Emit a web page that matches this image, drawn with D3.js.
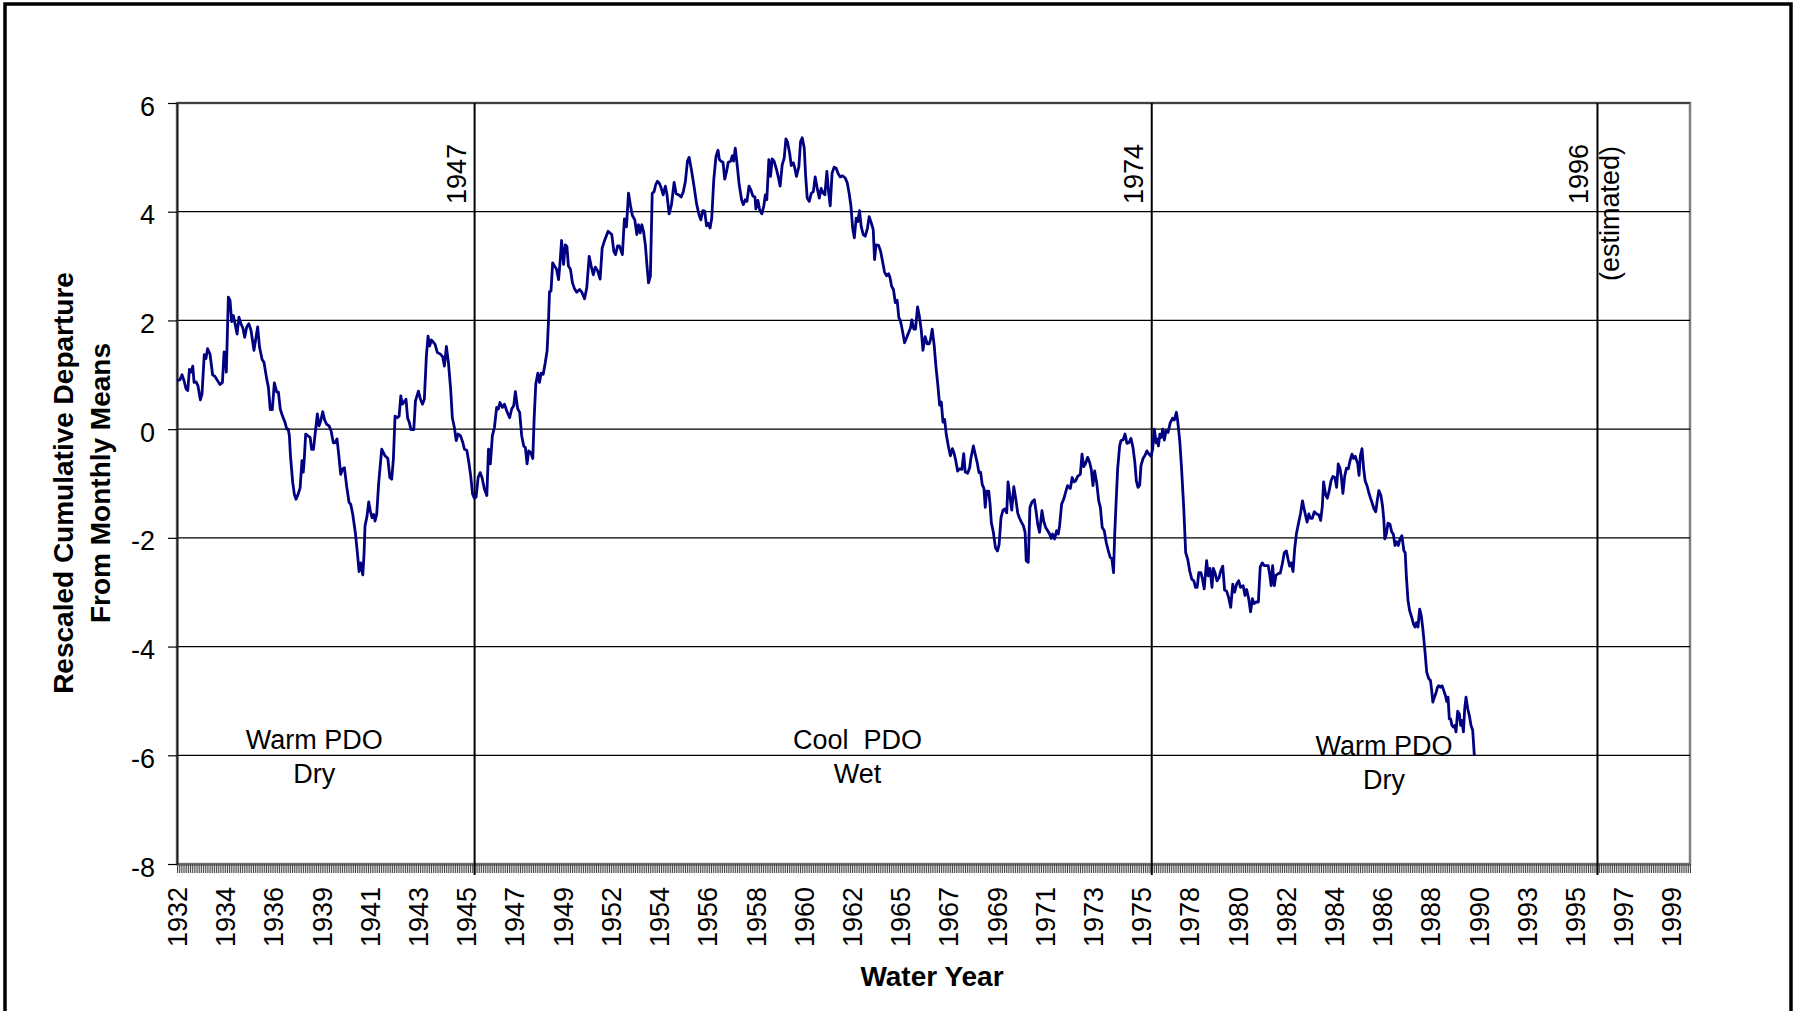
<!DOCTYPE html>
<html>
<head>
<meta charset="utf-8">
<script src="https://cdn.jsdelivr.net/npm/d3@7"></script>
<style>
  body { margin: 0; background: #fff; }
  svg { display: block; font-family: "Liberation Sans", Arial, sans-serif; }
</style>
</head>
<body>
<div id="chart"></div>
<script>
// monthly points [month since start of record, rescaled cumulative departure]
let warmEarly = [[0,0.89],[1.6,0.91],[2.7,1.0],[3.8,0.89],[4.9,0.74],[5.8,0.71],[6.7,1.10],[7.7,1.05],[8.5,1.16],[9.2,0.86],[10.3,0.87],[11.3,0.80],[12.6,0.54],[13.5,0.65],[14.7,1.37],[15.6,1.30],[16.5,1.48],[17.8,1.38],[19.2,1.0],[20.5,0.97],[21.9,0.89],[23.2,0.82],[24.5,0.86],[25.4,1.42],[26.1,1.37],[26.6,1.05],[27.7,2.43],[28.6,2.37],[29.5,1.98],[30.4,2.09],[31.3,1.94],[32.4,1.75],[33.4,2.06],[34.5,1.94],[35.6,1.85],[36.5,1.69],[37.6,1.88],[38.7,1.94],[39.9,1.82],[41.5,1.45],[43.5,1.88],[44.5,1.51],[45.9,1.28],[46.9,1.23],[48.4,0.92],[49.3,0.77],[50.3,0.36],[51.4,0.36],[52.5,0.85],[53.8,0.68],[54.7,0.68],[55.7,0.37],[56.8,0.25],[58.3,0.12],[59.2,0],[60,0.0],[60.6,-0.12],[61.2,-0.49],[62.4,-0.98],[63.3,-1.2],[64.2,-1.29],[65.3,-1.2],[66.4,-1.08],[67.4,-0.58],[68.1,-0.79],[68.6,-0.58],[69.4,-0.09],[70.5,-0.12],[71.8,-0.15],[72.6,-0.37],[73.6,-0.37],[74.6,-0.06],[75.7,0.28],[76.6,0.06],[77.5,0.15],[78.6,0.32],[79.6,0.17],[80.7,0.09],[82,0.06],[83.1,-0.03],[84.3,-0.25],[85.2,-0.25],[86.3,-0.18],[87.2,-0.46],[88.3,-0.83],[89.4,-0.73],[90.3,-0.71],[91.5,-1.05],[92.8,-1.35],[93.7,-1.38],[94.8,-1.57],[96.2,-1.91],[97.3,-2.28],[98.2,-2.62],[99.1,-2.46],[100.2,-2.68],[100.9,-2.28],[101.4,-1.78],[102.5,-1.6],[103.4,-1.34],[104.3,-1.51],[105.2,-1.63],[106.1,-1.57],[106.8,-1.69],[107.7,-1.57],[108.8,-0.98],[110.4,-0.37],[112.2,-0.49],[113.7,-0.54],[114.8,-0.89],[115.8,-0.92],[116.7,-0.55],[117.6,0.24],[118.8,0.21],[119.8,0.24],[120.7,0.61],[121.6,0.46],[122.5,0.5],[123.5,0.55],[124.4,0.2],[125.3,0.12],[126.2,-0.01],[127.7,-0.01],[128.6,0.52],[130.2,0.7],[131.3,0.55],[132.4,0.46],[133.4,0.55],[134.5,1.35],[135.4,1.71],[136.3,1.53],[137.2,1.64],[139.2,1.56],[140.4,1.41],[142.1,1.38],[143.3,1.33],[144.2,1.16],[145.3,1.52],[146.4,1.22],[147.6,0.73],[148.5,0.21],[149.6,0.03],[150.6,-0.21],[151.6,-0.09],[152.9,-0.12],[154.1,-0.24],[155,-0.37],[156.3,-0.39],[157.4,-0.61],[158.4,-0.86],[159.4,-1.19],[160.4,-1.27]];

let coolWet = [[161.3,-1.25],[162.4,-0.89],[163.5,-0.8],[164.5,-0.89],[165.8,-1.10],[167.1,-1.22],[168,-0.37],[169,-0.64],[170.1,-0.12],[171.2,0.03],[172.4,0.4],[173.3,0.37],[174.2,0.49],[175.5,0.40],[176.6,0.46],[178,0.32],[179.4,0.21],[180.5,0.37],[181.6,0.43],[182.5,0.69],[183.7,0.38],[184.8,0.31],[185.9,-0.12],[187,-0.31],[187.9,-0.34],[188.8,-0.64],[189.7,-0.4],[190.8,-0.43],[191.9,-0.54],[192.6,0.18],[193.5,0.83],[194.6,1.03],[195.5,0.86],[196.4,1.03],[197.5,1.01],[198.6,1.22],[199.6,1.44],[200.4,2.02],[200.9,2.53],[201.7,2.54],[202.6,3.06],[203.6,3.0],[204.7,2.94],[205.8,2.75],[206.7,3.12],[207.4,3.47],[208.5,3.03],[209.4,3.39],[210.3,3.36],[211.1,3.0],[212.2,2.94],[213.3,2.69],[214.4,2.58],[215.6,2.52],[217.1,2.57],[218.3,2.52],[219.8,2.4],[221,2.6],[222.3,3.18],[223.4,3.0],[224.5,2.84],[225.6,2.98],[226.8,2.92],[228.2,2.76],[229.3,3.33],[230.4,3.45],[232.5,3.64],[234.5,3.58],[235.6,3.27],[236.5,3.21],[237.6,3.37],[238.6,3.37],[240.2,3.21],[241.3,3.87],[242.4,3.72],[243.5,4.34],[244.6,4.11],[245.6,3.93],[246.9,3.85],[248,3.58],[248.9,3.76],[249.8,3.61],[250.7,3.76],[251.6,3.64],[252.6,3.39],[253.5,3.0],[254.3,2.69],[255.3,2.81],[256.3,4.34],[257.3,4.37],[258.2,4.5],[259.1,4.56],[260.2,4.52],[261.1,4.44],[262.2,4.31],[263.4,4.47],[264.2,4.33],[265.4,3.96],[266.7,4.13],[268.1,4.54],[269.2,4.33],[270.6,4.31],[271.9,4.27],[273.1,4.37],[274.2,4.56],[275.3,4.93],[276.2,5.0],[277.3,4.8],[278.7,4.5],[280.3,4.13],[281.6,3.94],[282.5,3.85],[283.6,4.02],[284.6,4.01],[285.6,3.74],[286.4,3.79],[287.5,3.70],[288.4,3.88],[289.5,4.59],[290.7,5.02],[291.8,5.13],[292.5,4.96],[293.4,4.93],[294.5,4.91],[295.4,4.6],[296.4,4.74],[297.3,4.91],[298.6,4.93],[299.5,5.03],[300.2,4.93],[301.1,5.17],[302,4.9],[303.2,4.5],[304.5,4.22],[305.4,4.13],[306.5,4.22],[307.4,4.19],[308.5,4.47],[309.5,4.4],[310.6,4.29],[311.7,4.27],[312.2,4.05],[313.3,4.21],[314.2,4.04],[315.4,3.96],[316.5,4.11],[317.3,4.31],[318.1,4.22],[319.2,4.96],[320.1,4.65],[321,4.97],[322,4.93],[323.4,4.77],[324.4,4.62],[325.3,4.47],[326.4,4.86],[327.5,4.99],[328.4,5.34],[329.3,5.28],[330.4,5.08],[331.3,4.85],[332.4,4.9],[333.2,4.8],[334.1,4.65],[335.4,4.83],[336.3,5.29],[337.2,5.36],[338.3,5.17],[339,4.68],[339.9,4.25],[341,4.19],[342.1,4.34],[343.2,4.37],[344.2,4.64],[345.3,4.43],[346.4,4.25],[347.4,4.43],[348.5,4.34],[349.4,4.31],[350.5,4.74],[351.4,4.37],[352.3,4.11],[353.3,4.71],[354.4,4.82],[355.5,4.8],[356.6,4.7],[357.7,4.64],[358.9,4.66],[360.4,4.62],[361.5,4.53],[362.5,4.34],[363.5,4.1],[364.4,3.7],[365.3,3.52],[366.3,3.88],[367.2,3.82],[368.1,4.02],[369,3.73],[370.1,3.58],[371.2,3.55],[372.4,3.7],[373.3,3.91],[374.4,3.8],[375.5,3.67],[376.2,3.12],[377,3.39],[378.4,3.38],[379.5,3.27],[380.5,3.09],[381.6,2.89],[382.7,2.82],[383.8,2.86],[384.6,2.78],[385.4,2.63],[386.4,2.57],[387.4,2.33],[388.4,2.37],[389.3,2.05],[390.2,1.99],[391.3,1.8],[392.4,1.59],[393.5,1.68],[394.5,1.77],[395.6,1.86],[396.3,2.01],[397.4,1.84],[398.3,1.84],[399.4,2.25],[400.4,2.07],[401.4,1.82],[402.3,1.45],[403.5,1.7],[404.6,1.57],[405.7,1.57],[406.4,1.65],[407.3,1.84],[408.4,1.53],[409.3,1.16],[410.4,0.79],[411.3,0.44],[412.2,0.5],[413.1,0.13],[414,0.18],[414.9,-0.1],[416,-0.31],[417.1,-0.49],[418.2,-0.36],[419,-0.43],[419.9,-0.56],[421,-0.77],[422.1,-0.73],[423.3,-0.74],[424.3,-0.45],[425.1,-0.79],[426.4,-0.81],[427.5,-0.71],[428.2,-0.53],[429.5,-0.31],[430.7,-0.49],[431.6,-0.62],[432.5,-0.8],[433.4,-0.79],[434.3,-1.02],[435.2,-1.09],[435.9,-1.44],[436.7,-1.14],[437.8,-1.14],[438.5,-1.38],[439.2,-1.72],[440.3,-1.9],[441.4,-2.18],[442.5,-2.24],[443.4,-2.12],[444.4,-1.63],[445.5,-1.49],[446.4,-1.47],[447.5,-1.54],[448.2,-0.97],[449.1,-1.2],[450.2,-1.49],[451.3,-1.06],[452.4,-1.29],[453.4,-1.54],[454.3,-1.63],[455.4,-1.71],[456.5,-1.78],[457.4,-1.9],[458,-2.42],[459.1,-2.45],[460,-1.44],[461.1,-1.34],[462.4,-1.3],[463.4,-1.53],[464.2,-1.75],[465.2,-1.9],[466.5,-1.5],[467.4,-1.69],[468.5,-1.81],[469.6,-1.87],[470.6,-1.93],[471.5,-2.01],[472.2,-1.93],[473.3,-2.02],[474.4,-1.87],[475.3,-1.93],[476,-1.78],[477.1,-1.38],[478.2,-1.29],[479.2,-1.17],[480.3,-1.04],[481.8,-1.09],[482.8,-0.89],[483.8,-0.97],[484.7,-0.95],[485.7,-0.87],[487.2,-0.83],[488.1,-0.46],[489,-0.69],[489.9,-0.64],[491.1,-0.52],[492.2,-0.61],[493.1,-0.74],[494,-1.04],[494.9,-0.77],[496,-0.98],[497.1,-1.32],[498,-1.44],[499,-1.81],[500.1,-1.87],[501.2,-2.09],[502.3,-2.24],[503.3,-2.36],[504.2,-2.38],[505.1,-2.64],[505.7,-1.96],[506.4,-1.41],[507.3,-0.74],[508.4,-0.31],[509.1,-0.21],[510.2,-0.2],[511.3,-0.09],[512.3,-0.26],[513.4,-0.25],[514.5,-0.17],[515.6,-0.34],[516.6,-0.61],[517.4,-0.95],[518.3,-1.07],[519.2,-1.03],[519.9,-0.67],[521,-0.54],[522.1,-0.48],[523.1,-0.4],[524.2,-0.46],[525.3,-0.5]];

let warmLate = [[526.2,-0.37],[527.1,0],[528.1,-0.25],[528.5,-0.18],[529.3,-0.31],[530.1,-0.09],[530.9,-0.15],[531.6,0],[532.5,-0.2],[533.4,-0.03],[534.5,-0.06],[535.7,0.12],[537,0.2],[537.9,0.17],[539,0.31],[539.7,0.15],[540.8,-0.21],[541.7,-0.67],[543,-1.47],[544,-2.27],[545.1,-2.39],[546.2,-2.61],[547.3,-2.76],[548.4,-2.79],[549.3,-2.91],[550.2,-2.91],[551.1,-2.64],[552.2,-2.64],[553.1,-2.76],[554,-2.94],[555.3,-2.42],[556.2,-2.7],[557.1,-2.56],[558.2,-2.91],[558.9,-2.56],[559.8,-2.64],[560.9,-2.79],[562,-2.73],[562.9,-2.61],[564,-2.52],[565,-2.96],[566.1,-2.98],[567.2,-3.1],[568.3,-3.28],[569.4,-2.85],[570.4,-3.0],[571.5,-2.85],[572.6,-2.79],[573.6,-2.91],[575,-2.88],[576,-3.06],[576.9,-2.95],[578,-3.12],[579,-3.36],[580,-3.12],[580.9,-3.21],[582.1,-3.18],[583.2,-3.18],[584.2,-2.54],[585.3,-2.46],[586.4,-2.51],[588.5,-2.51],[589.4,-2.69],[590.1,-2.88],[590.9,-2.51],[591.8,-2.88],[592.7,-2.69],[593.8,-2.66],[595,-2.65],[596.1,-2.48],[597.2,-2.27],[598.3,-2.24],[599.2,-2.39],[600.1,-2.52],[601,-2.46],[601.9,-2.62],[602.8,-2.2],[603.7,-1.93],[605,-1.71],[605.9,-1.56],[607,-1.32],[607.7,-1.44],[608.6,-1.58],[609.5,-1.71],[610.4,-1.56],[611.3,-1.64],[612.3,-1.64],[613.4,-1.52],[614.7,-1.56],[615.9,-1.58],[616.8,-1.68],[617.7,-1.42],[618.4,-0.97],[619.5,-1.21],[620.4,-1.27],[621.3,-1.15],[622.4,-0.95],[623.4,-0.87],[624.5,-0.89],[625.4,-1.07],[626.3,-0.64],[627.2,-0.72],[628,-0.89],[628.8,-1.18],[629.8,-0.86],[630.7,-0.72],[631.7,-0.73],[632.8,-0.56],[633.7,-0.46],[634.6,-0.54],[635.5,-0.5],[636.8,-0.64],[637.5,-0.85],[638.2,-0.49],[639.1,-0.36],[640,-0.73],[640.8,-0.95],[641.8,-1.04],[642.7,-1.16],[643.6,-1.26],[644.5,-1.35],[645.5,-1.46],[646.5,-1.52],[647.3,-1.32],[648.2,-1.13],[649.3,-1.22],[650.2,-1.42],[650.9,-1.68],[651.4,-2.02],[652.2,-1.93],[653.1,-1.73],[654.2,-1.75],[655.1,-1.89],[656,-1.93],[656.9,-2.14],[657.8,-2.07],[658.7,-2.14],[659.6,-2.02],[660.6,-1.96],[661.7,-2.24],[662.4,-2.27],[663,-2.69],[663.9,-3.15],[664.8,-3.34],[665.9,-3.46],[666.8,-3.58],[667.7,-3.64],[668.4,-3.56],[669.3,-3.64],[670.2,-3.31],[671.1,-3.44],[672,-3.7],[673.1,-4.1],[674,-4.47],[675.1,-4.59],[676,-4.62],[676.7,-4.81],[677.3,-5.02],[678.2,-4.93],[679.1,-4.84],[679.8,-4.75],[680.5,-4.72],[681.4,-4.75],[682.3,-4.72],[683.2,-4.81],[684.1,-4.9],[684.8,-5.01],[685.5,-4.93],[686.2,-5.33],[686.9,-5.33],[687.6,-5.45],[688.4,-5.48],[689.1,-5.45],[689.8,-5.57],[690.7,-5.19],[691.6,-5.24],[692.3,-5.45],[693,-5.36],[693.8,-5.57],[694.5,-5.14],[695.2,-4.93],[696.1,-5.14],[697,-5.27],[697.9,-5.45],[698.8,-5.54],[699.7,-6.01]];

let yearLabels = ['1932','1934','1936','1939','1941','1943','1945','1947','1949','1952','1954','1956','1958','1960','1962','1965','1967','1969','1971','1973','1975','1978','1980','1982','1984','1986','1988','1990','1993','1995','1997','1999'];
let labelEvery = 26;    // months between year labels
let totalMonths = 816;  // categories on the x axis
let yTicks = [-8, -6, -4, -2, 0, 2, 4, 6];

let shiftYears = ['1947', '1974', '1996'];
let shiftMonths = [160.5, 525.7, 766.1];
let shiftNotes = ['', '', '(estimated)'];

let regimeTop = ['Warm PDO', 'Cool  PDO', 'Warm PDO'];
let regimeBottom = ['Dry', 'Wet', 'Dry'];
let regimeMonths = [74, 367, 651];


let W = 1795, H = 1011;
let pLeft = 177, pRight = 1690, pTop = 103, pBottom = 864;
let font = 27;

let svg = d3.select('#chart')
  .append('svg')
    .attr('width', W)
    .attr('height', H)
;

svg.append('rect')
    .attr('width', W)
    .attr('height', H)
    .attr('fill', '#fff')
;

// outer frame (bottom edge runs off the picture)
svg.append('rect')
    .attr('x', 5)
    .attr('y', 4)
    .attr('width', 1786)
    .attr('height', 1200)
    .attr('fill', 'none')
    .attr('stroke', '#000')
    .attr('stroke-width', 3.5)
;

let x = d3.scaleLinear().domain([0, totalMonths]).range([pLeft, pRight]);
let y = d3.scaleLinear().domain([-8, 6]).range([pBottom, pTop]);

// plot area border
svg.append('rect')
    .attr('x', pLeft)
    .attr('y', pTop)
    .attr('width', pRight - pLeft)
    .attr('height', pBottom - pTop)
    .attr('fill', 'none')
    .attr('stroke', '#808080')
    .attr('stroke-width', 2.5)
;

// gridlines
svg.selectAll('.grid').data(yTicks)
  .enter()
    .append('line')
    .attr('class', 'grid')
    .attr('x1', pLeft)
    .attr('x2', pRight)
    .attr('y1', d => y(d))
    .attr('y2', d => y(d))
    .attr('stroke', '#000')
    .attr('stroke-width', 1.2)
;

// monthly tick band on the x axis
let minorAxis = d3.axisBottom(x)
  .tickValues(d3.range(0, totalMonths + 1))
  .tickSize(9)
  .tickSizeOuter(0)
  .tickFormat('');

let gMinor = svg.append('g')
    .attr('transform', 'translate(0,' + pBottom + ')')
    .call(minorAxis);
gMinor.select('.domain').attr('stroke', '#808080').attr('stroke-width', 2.5);
gMinor.selectAll('.tick line').attr('stroke', '#444').attr('stroke-width', 1);

// year labels
let labelAxis = d3.axisBottom(x)
  .tickValues(yearLabels.map((d, i) => i * labelEvery))
  .tickSize(0)
  .tickFormat((d, i) => yearLabels[i]);

let gLabels = svg.append('g')
    .attr('transform', 'translate(0,' + pBottom + ')')
    .call(labelAxis);
gLabels.select('.domain').remove();
gLabels.selectAll('text')
    .attr('transform', 'rotate(-90)')
    .attr('text-anchor', 'end')
    .attr('x', -23)
    .attr('y', 9.5)
    .attr('dy', 0)
    .attr('fill', '#000')
    .style('font-size', font + 'px')
    .style('font-family', '"Liberation Sans", Arial, sans-serif')
;

// y axis
let yAxis = d3.axisLeft(y)
  .tickValues(yTicks)
  .tickSize(9)
  .tickSizeOuter(0)
  .tickPadding(13)
  .tickFormat(d => String(d));

let gy = svg.append('g')
    .attr('transform', 'translate(' + pLeft + ',0)')
    .call(yAxis);
gy.select('.domain').attr('stroke', '#222').attr('stroke-width', 2);
gy.selectAll('.tick line').attr('stroke', '#000').attr('stroke-width', 1.2);
gy.selectAll('text')
    .attr('dy', 12)
    .attr('fill', '#000')
    .style('font-size', font + 'px')
    .style('font-family', '"Liberation Sans", Arial, sans-serif')
;

// regime shift lines
let shifts = svg.selectAll('.shift').data(shiftYears)
  .enter()
    .append('g')
    .attr('class', 'shift')
;

shifts.append('line')
    .attr('x1', (d, i) => x(shiftMonths[i]))
    .attr('x2', (d, i) => x(shiftMonths[i]))
    .attr('y1', pTop)
    .attr('y2', pBottom + 11)
    .attr('stroke', '#000')
    .attr('stroke-width', 2)
;

shifts.append('text')
    .attr('transform', (d, i) => 'translate(' + (x(shiftMonths[i]) - 9) + ',144) rotate(-90)')
    .attr('text-anchor', 'end')
    .style('font-size', font + 'px')
    .text(d => d)
;

shifts.filter((d, i) => shiftNotes[i] != '')
  .append('text')
    .attr('transform', d => {
      let i = shiftYears.indexOf(d);
      return 'translate(' + (x(shiftMonths[i]) + 22) + ',146) rotate(-90)';
    })
    .attr('text-anchor', 'end')
    .style('font-size', font + 'px')
    .text(d => shiftNotes[shiftYears.indexOf(d)])
;

// the series
let series = warmEarly.concat(coolWet, warmLate);

let line = d3.line()
  .x(d => x(d[0]))
  .y(d => y(d[1]));

svg.append('path')
    .datum(series)
    .attr('d', line)
    .attr('fill', 'none')
    .attr('stroke', '#000080')
    .attr('stroke-width', 2.8)
    .attr('stroke-linejoin', 'round')
;

// regime labels
let regimeBase = [749, 749, 755];
let regime = svg.selectAll('.regime').data(regimeTop)
  .enter()
    .append('g')
    .attr('class', 'regime')
;
regime.append('text')
    .attr('x', (d, i) => x(regimeMonths[i]))
    .attr('y', (d, i) => regimeBase[i])
    .attr('text-anchor', 'middle')
    .style('white-space', 'pre')
    .style('font-size', font + 'px')
    .text(d => d)
;
regime.append('text')
    .attr('x', (d, i) => x(regimeMonths[i]))
    .attr('y', (d, i) => regimeBase[i] + 34)
    .attr('text-anchor', 'middle')
    .style('font-size', font + 'px')
    .text((d, i) => regimeBottom[i])
;

// axis titles
svg.append('text')
    .attr('x', 932)
    .attr('y', 986)
    .attr('text-anchor', 'middle')
    .style('font-size', '28px')
    .style('font-weight', 'bold')
    .text('Water Year')
;

let yTitle = svg.append('text')
    .attr('transform', 'translate(73,483) rotate(-90)')
    .attr('text-anchor', 'middle')
    .style('font-size', '28px')
    .style('font-weight', 'bold')
;
yTitle.append('tspan').attr('x', 0).attr('y', 0).text('Rescaled Cumulative Departure');
yTitle.append('tspan').attr('x', 0).attr('y', 37).text('From Monthly Means');

</script>
</body>
</html>
